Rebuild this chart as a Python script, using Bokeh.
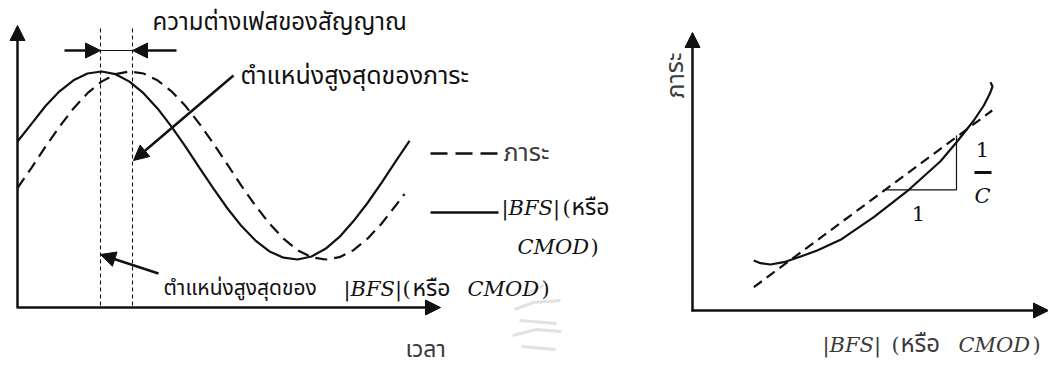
from bokeh.plotting import figure
from bokeh.models import Range1d, Arrow, NormalHead
from bokeh.core.properties import value
from bokeh.embed import file_html
from bokeh.resources import INLINE

W, H = 1048, 365

# ---------------- left panel: signals over time ----------------
# |BFS| (or CMOD) signal, sampled along the time axis (screen units, y grows downward)
t_bfs = [17, 31, 45, 59, 73, 87, 101, 115, 129, 143, 157, 171, 185, 199, 213,
         227, 241, 255, 269, 283, 297, 311, 325, 339, 353, 367, 381, 395, 409]
bfs = [141.0, 123.4, 105.5, 90.8, 79.8, 73.0, 71.0, 73.7, 81.1, 92.7, 107.9, 126.1,
       146.2, 167.3, 188.2, 208.0, 225.6, 240.1, 250.9, 257.2, 259.0, 256.0, 248.3,
       236.4, 220.6, 202.5, 182.4, 161.2, 140.3]

# load signal, lagging behind the |BFS| signal
t_load = [17, 31, 45, 59, 73, 87, 101, 115, 129, 143, 157, 171, 185, 199, 213,
          227, 241, 255, 269, 283, 297, 311, 325, 339, 353, 367, 381, 395, 404]
load = [187.5, 167.3, 146.2, 126.1, 107.9, 92.7, 81.1, 73.7, 71.0, 73.0, 79.8, 90.8,
        105.5, 123.4, 143.2, 164.2, 185.3, 205.3, 223.2, 238.2, 249.7, 256.7, 259.0,
        256.7, 249.7, 238.2, 223.2, 205.3, 193.5]

# peak markers (time of each signal's maximum)
peak_bfs_t = 100
peak_load_t = 132

# ---------------- right panel: load vs |BFS| ----------------
bfs_x = [753.3, 760.0, 770.0, 783.3, 796.7, 816.7, 840.0, 873.3, 906.7, 940.0,
         956.7, 973.3, 983.3, 989.3, 992.0, 990.0]
load_y = [260.0, 262.7, 264.0, 261.7, 257.3, 250.0, 239.3, 216.7, 190.7, 160.7,
          141.0, 120.0, 105.0, 93.3, 86.0, 81.7]
# linear fit with slope 1/C
fit_x = [753.3, 991.7]
fit_y = [286.7, 110.0]

INK = "#111111"
GREY = "#3a3a3a"
THAI = value("Noto Sans Thai, Noto Sans Thai UI, Leelawadee UI, Tahoma, Loma, Garuda, sans-serif")
MATH = value("DejaVu Serif")

p = figure(width=W, height=H, x_range=Range1d(0, W), y_range=Range1d(H, 0),
           output_backend="svg", toolbar_location=None, min_border=0,
           background_fill_color="white", border_fill_color="white")
p.axis.visible = False
p.grid.visible = False
p.outline_line_color = None


def arrow(x0, y0, x1, y1, lw=2.5, size=15):
    p.add_layout(Arrow(end=NormalHead(size=size, line_color=INK, fill_color=INK, line_width=1),
                       x_start=x0, y_start=y0, x_end=x1, y_end=y1,
                       line_color=INK, line_width=lw))


def label(x, y, s, font, size, color=INK, italic=False, **kw):
    p.text([x], [y], text=[s], text_font=font, text_font_size=size, text_color=color,
           text_font_style="italic" if italic else "normal",
           text_baseline=kw.pop("baseline", "middle"), **kw)


def bfs_or_cmod(x_bfs, x_paren, x_thai, x_cmod, x_close, y, y2=None, color=INK, thai_size="24px"):
    """Writes '|BFS| (หรือ CMOD)' with math-style italics for the symbols."""
    y2 = y if y2 is None else y2
    label(x_bfs, y, "|BFS|", MATH, "21px", color, italic=True)
    label(x_paren, y, "(", MATH, "21px", color)
    label(x_thai, y, "หรือ", THAI, thai_size, color)
    label(x_cmod, y2, "CMOD", MATH, "21px", color, italic=True)
    label(x_close, y2, ")", MATH, "21px", color)


# faint seal printed behind the page centre
p.multi_line([[527, 543], [514, 533, 560], [519, 556], [512, 536, 561], [521, 555]],
             [[293, 285], [309, 302, 300], [320, 323], [335, 329, 331], [346, 349]],
             line_color="#e2e2e2", line_width=3)

# left axes
arrow(17, 307, 17, 25)
arrow(16, 307, 440, 307)

# signals
p.line(t_bfs, bfs, line_color=INK, line_width=2.2)
p.line(t_load, load, line_color=INK, line_width=2.2, line_dash="12 7")

# peak markers
for tp in (peak_bfs_t, peak_load_t):
    p.line([tp, tp], [28, 306], line_color=INK, line_width=1.1, line_dash="4 3")

# phase difference dimension
arrow(64, 50, peak_bfs_t, 50)
arrow(176, 50, peak_load_t, 50)
p.line([peak_bfs_t, peak_load_t], [50, 50], line_color=INK, line_width=1)

# callouts
arrow(233, 75, peak_load_t + 1, 160)
arrow(158, 273, peak_bfs_t, 254)

label(152, 22, "ความต่างเฟสของสัญญาณ", THAI, "24px")
label(240, 75, "ตำแหน่งสูงสุดของภาระ", THAI, "25px")

# bottom callout text
label(163, 288, "ตำแหน่งสูงสุดของ", THAI, "21px")
bfs_or_cmod(343, 402, 412, 467, 541, 288, thai_size="23px")

# time axis title
label(405, 349, "เวลา", THAI, "23px", GREY)

# legend
p.line([430, 498], [153, 153], line_color=INK, line_width=2.5, line_dash="17 8")
label(503, 152, "ภาระ", THAI, "25px", GREY)
p.line([430, 498], [212, 212], line_color=INK, line_width=2.5)
bfs_or_cmod(501, 562, 571, 517, 590, 207, y2=246, thai_size="23px")

# ---------------- right panel ----------------
arrow(692, 311, 692, 32)
arrow(691, 310, 1048, 310)

p.line(bfs_x, load_y, line_color=INK, line_width=2.2)
p.line(fit_x, fit_y, line_color=INK, line_width=2.2, line_dash="10 6")

# slope triangle
p.line([883, 956, 956], [189.3, 189.3, 135], line_color=INK, line_width=1.2)
label(918, 213, "1", MATH, "21px", text_align="center")
label(982, 149, "1", MATH, "21px", text_align="center")
p.line([974, 991], [172, 172], line_color=INK, line_width=3)
label(982, 195, "C", MATH, "21px", italic=True, text_align="center")

# axis titles
label(675, 75, "ภาระ", THAI, "25px", GREY, text_align="center", angle=1.5708)
bfs_or_cmod(822, 891, 900, 958, 1032, 344, color=GREY, thai_size="24px")

open("out.html", "w").write(file_html(p, INLINE))
